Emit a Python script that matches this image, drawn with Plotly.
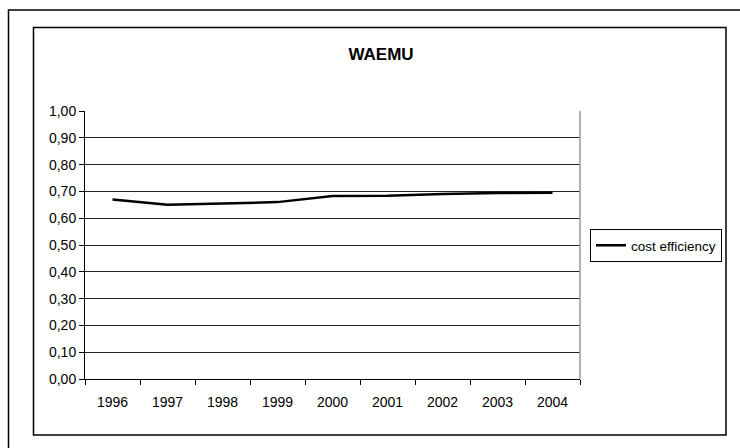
import plotly.graph_objects as go

years = ["1996", "1997", "1998", "1999", "2000", "2001", "2002", "2003", "2004"]
cost_efficiency = [0.67, 0.65, 0.655, 0.66, 0.683, 0.684, 0.69, 0.694, 0.695]
series_name = "cost efficiency"
title_text = "WAEMU"

W, H = 740, 448
L, R, T, B = 85, 580, 111, 379  # plot area pixels


def px(x):
    return (x - L) / (R - L)


def py(y):
    return (B - y) / (B - T)


fig = go.Figure()
fig.add_trace(go.Scatter(
    x=years, y=cost_efficiency, mode="lines", name=series_name,
    line=dict(color="black", width=2.5),
))

font = "Liberation Sans, Arial, sans-serif"
fig.update_layout(
    width=W, height=H,
    margin=dict(l=L, r=W - R, t=T, b=H - B, pad=0),
    paper_bgcolor="white", plot_bgcolor="white",
    separators=",.",
    font=dict(family=font, size=14, color="black"),
    title=dict(text="<b>" + title_text + "</b>", x=px(381), xref="paper", xanchor="center",
               y=1 - 54.5 / H, yref="container", yanchor="middle",
               font=dict(family=font, size=17, color="black")),
    showlegend=True,
    legend=dict(x=px(590), y=py(229), xanchor="left", yanchor="top",
                bordercolor="black", borderwidth=1, bgcolor="white",
                font=dict(family=font, size=13.5, color="black"),
                itemwidth=30, tracegroupgap=0),
    xaxis=dict(type="category", range=[-0.5, 8.5], tickson="boundaries",
               ticks="outside", ticklen=5, tickcolor="black", tickwidth=1,
               ticklabelstandoff=10,
               showgrid=False, showline=True, linecolor="black", linewidth=1,
               tickfont=dict(family=font, size=14, color="black"),
               fixedrange=True),
    yaxis=dict(range=[0, 1], dtick=0.1, tick0=0, tickformat=".2f",
               ticks="outside", ticklen=5, tickcolor="black", tickwidth=1,
               showgrid=True, gridcolor="#222222", gridwidth=1,
               showline=True, linecolor="black", linewidth=1,
               zeroline=False,
               tickfont=dict(family=font, size=14, color="black"),
               fixedrange=True),
    shapes=[
        # outer border
        dict(type="rect", xref="paper", yref="paper",
             x0=px(8.5), x1=px(745), y0=py(455), y1=py(10),
             line=dict(color="black", width=1.5), fillcolor="rgba(0,0,0,0)", layer="above"),
        # inner chart border
        dict(type="rect", xref="paper", yref="paper",
             x0=px(33.5), x1=px(726), y0=py(435), y1=py(27.5),
             line=dict(color="black", width=1.5), fillcolor="rgba(0,0,0,0)", layer="above"),
        # plot area right border
        dict(type="line", xref="paper", yref="paper",
             x0=1, x1=1, y0=0, y1=1,
             line=dict(color="#999999", width=1.5), layer="above"),
    ],
)

fig.write_html("out.html")
